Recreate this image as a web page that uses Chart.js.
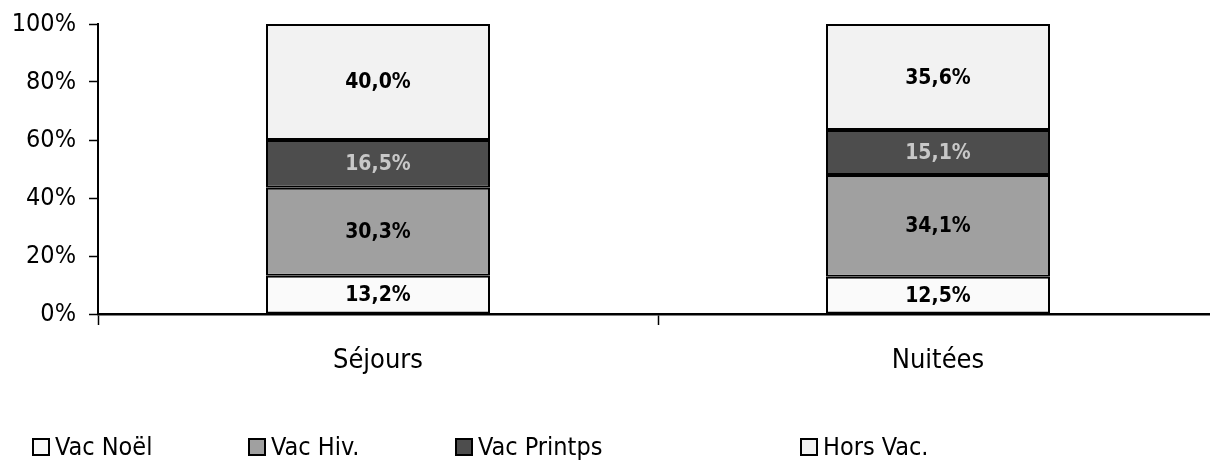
<!DOCTYPE html>
<html>
<head>
<meta charset="utf-8">
<script src="https://cdn.jsdelivr.net/npm/chart.js@4/dist/chart.umd.min.js"></script>
<style>
  html, body { margin: 0; padding: 0; background: #fff; overflow: hidden; }
  #wrap { position: relative; width: 1222px; height: 463px; }
  .legend-item {
    position: absolute;
    top: 432px;
    display: flex;
    align-items: center;
    font-family: "DejaVu Sans Condensed", "DejaVu Sans", sans-serif;
    font-stretch: condensed;
    font-size: 25px;
    color: #000;
    white-space: nowrap;
  }
  .legend-box {
    width: 14px;
    height: 14px;
    border: 2px solid #000;
    margin-right: 5px;
  }
</style>
</head>
<body>
<div id="wrap">
  <canvas id="chart" width="1222" height="463"></canvas>
</div>
<script>
const categories   = ['Séjours', 'Nuitées'];
const seriesNames  = ['Vac Noël', 'Vac Hiv.', 'Vac Printps', 'Hors Vac.'];
const vacNoel      = [13.2, 12.5];
const vacHiv       = [30.3, 34.1];
const vacPrintps   = [16.5, 15.1];
const horsVac      = [40.0, 35.6];
const yTicks       = [0, 20, 40, 60, 80, 100];

const fills       = ['#FAFAFA', '#A0A0A0', '#4D4D4D', '#F2F2F2'];
const labelColors = ['#000000', '#000000', '#C8C8C8', '#000000'];
const legendLeft  = [32, 248, 455, 800];

const FONT = '"DejaVu Sans Condensed", "DejaVu Sans", sans-serif';

// graphique empilé à 100 % : chaque barre est ramenée au total de sa catégorie
const series = [vacNoel, vacHiv, vacPrintps, horsVac];
const totals = categories.map((_, j) => series.reduce((s, arr) => s + arr[j], 0));

const datasets = series.map((vals, i) => ({
  label:           seriesNames[i],
  data:            vals.map((v, j) => v / totals[j] * 100),
  raw:             vals,
  backgroundColor: fills[i],
  borderColor:     '#000',
  borderWidth:     2,
  borderSkipped:   false,
  barPercentage:      0.4,
  categoryPercentage: 1.0,
}));

// valeurs dans les barres
const barLabels = {
  id: 'barLabels',
  afterDatasetsDraw(chart) {
    const ctx = chart.ctx;
    ctx.save();
    ctx.font = 'bold 21px ' + FONT;
    ctx.textAlign = 'center';
    ctx.textBaseline = 'middle';
    chart.data.datasets.forEach((ds, i) => {
      chart.getDatasetMeta(i).data.forEach((bar, j) => {
        const v = ds.raw[j];
        ctx.fillStyle = labelColors[i];
        ctx.fillText(v.toFixed(1).replace('.', ',') + '%', bar.x, (bar.y + bar.base) / 2 + 1);
      });
    });
    ctx.restore();
  },
};

new Chart(document.getElementById('chart'), {
  type: 'bar',
  data: { labels: categories, datasets },
  plugins: [barLabels],
  options: {
    responsive: false,
    animation: false,
    layout: { padding: { top: 24, right: 4, left: 0, bottom: 0 } },
    plugins: {
      legend:  { display: false },
      tooltip: { enabled: false },
    },
    scales: {
      x: {
        stacked: true,
        grid: {
          display: true,
          offset: true,
          drawOnChartArea: false,
          drawTicks: true,
          tickLength: 11,
          tickWidth: 1.5,
          tickColor: '#000',
        },
        border: { color: '#000', width: 2.5 },
        ticks: {
          color: '#000',
          font: { family: FONT, size: 27 },
          padding: 20,
        },
        afterFit: s => { s.height = 149; },
      },
      y: {
        stacked: true,
        min: 0,
        max: 100,
        afterBuildTicks: s => { s.ticks = yTicks.map(v => ({ value: v })); },
        grid: {
          drawOnChartArea: false,
          drawTicks: true,
          tickLength: 9,
          tickWidth: 1.5,
          tickColor: '#000',
        },
        border: { color: '#000', width: 2 },
        ticks: {
          color: '#000',
          font: { family: FONT, size: 25, lineHeight: 0.8 },
          padding: 13,
          callback: v => v + '%',
        },
        afterFit: s => { s.width = 98; },
      },
    },
  },
});

const wrap = document.getElementById('wrap');
seriesNames.forEach((name, i) => {
  const item = document.createElement('div');
  item.className = 'legend-item';
  item.style.left = legendLeft[i] + 'px';
  item.innerHTML = `<span class="legend-box" style="background:${fills[i]}"></span>${name}`;
  wrap.appendChild(item);
});
</script>
</body>
</html>
